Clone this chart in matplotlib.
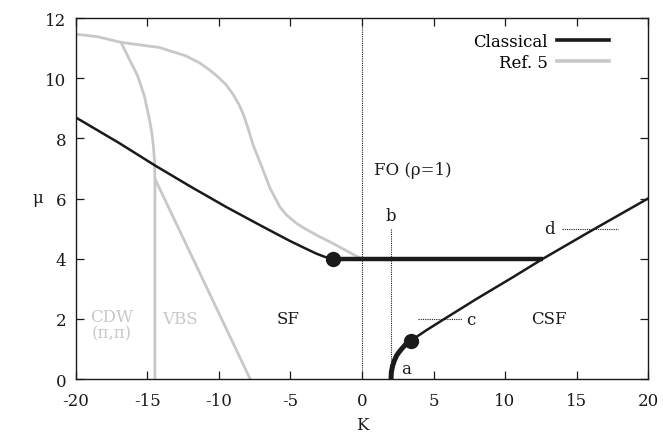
import matplotlib
matplotlib.use("Agg")
import matplotlib.pyplot as plt
from matplotlib.lines import Line2D
import numpy as np

plt.rcParams['font.family'] = ['DejaVu Serif']
plt.rcParams['axes.unicode_minus'] = False

# Classical boundary SF–FO (left)
sf_fo_K = [-20, -17.0, -14.48, -12.0, -9.5, -7.0, -5.0, -4.0, -3.2, -2.6, -2.0]
sf_fo_mu = [8.69, 7.85, 7.1, 6.4, 5.72, 5.08, 4.58, 4.35, 4.17, 4.06, 4.0]
# first-order line at mu=4
fo_K = [-2.0, 12.66]
fo_mu = [4.0, 4.0]
# CSF boundary (right, thin)
csf_K = [3.4, 4.5, 5.7, 8.0, 10.5, 12.66, 16.0, 20.0]
csf_mu = [1.27, 1.62, 1.98, 2.66, 3.37, 4.0, 4.92, 6.0]
# thick part near a
a_K = [2.03, 2.05, 2.14, 2.27, 2.42, 2.6, 2.77, 3.05, 3.4]
a_mu = [0.0, 0.22, 0.44, 0.62, 0.78, 0.9, 1.0, 1.15, 1.27]
# critical points
dots_K = [-2.0, 3.4]
dots_mu = [4.0, 1.27]

# Ref. 5 curves
ref_top_K = [-20, -18.5, -16.85, -14.17, -12.31, -11.33, -10.68, -10.16, -9.5, -9.0,
             -8.6, -8.3, -8.0, -7.6, -7.0, -6.43, -5.73, -5.27, -4.57, -4.1, -3.17,
             -2.0, -1.54, -0.37, 0.0]
ref_top_mu = [11.46, 11.38, 11.19, 11.02, 10.74, 10.5, 10.28, 10.08, 9.78, 9.45,
              9.12, 8.8, 8.38, 7.76, 7.05, 6.34, 5.71, 5.45, 5.17, 5.03, 4.78,
              4.5, 4.38, 4.08, 4.0]
ref_cdw_K = [-14.48, -14.48, -14.48, -14.5, -14.59, -14.7, -14.87, -15.22, -15.69,
             -16.27, -16.85]
ref_cdw_mu = [0.0, 4.0, 6.64, 7.2, 7.75, 8.2, 8.64, 9.41, 10.08, 10.63, 11.19]
ref_vbs_K = [-14.46, -7.82]
ref_vbs_mu = [6.64, 0.0]

black = '#1a1a1a'
grey = '#c8c8c8'
fs = 12

fig = plt.figure(figsize=(6.63, 4.35), dpi=100)
ax = fig.add_axes([0.1146, 0.1264, 0.8628, 0.8299])

ax.plot(ref_top_K, ref_top_mu, color=grey, lw=2.0, solid_joinstyle='round')
ax.plot(ref_cdw_K, ref_cdw_mu, color=grey, lw=2.0, solid_joinstyle='round')
ax.plot(ref_vbs_K, ref_vbs_mu, color=grey, lw=2.0)

ax.plot(sf_fo_K, sf_fo_mu, color=black, lw=1.8, solid_joinstyle='round')
ax.plot(fo_K, fo_mu, color=black, lw=3.2, solid_capstyle='butt')
ax.plot(csf_K, csf_mu, color=black, lw=1.8, solid_joinstyle='round')
ax.plot(a_K, a_mu, color=black, lw=3.6, solid_capstyle='butt', solid_joinstyle='round')
ax.plot(dots_K, dots_mu, 'o', color=black, ms=10)

# dotted guide lines
ax.plot([0, 0], [0, 12], color=black, lw=0.8, ls=(0, (1, 1)))
ax.plot([2.05, 2.05], [0, 4.98], color=black, lw=0.8, ls=(0, (1, 1)))
ax.plot([3.9, 7.0], [2.0, 2.0], color=black, lw=0.8, ls=(0, (1, 1)))
ax.plot([14.0, 17.9], [5.0, 5.0], color=black, lw=0.8, ls=(0, (1, 1)))

ax.text(2.05, 5.42, 'b', ha='center', va='center', fontsize=fs, color=black)
ax.text(7.3, 1.98, 'c', ha='left', va='center', fontsize=fs, color=black)
ax.text(13.5, 5.0, 'd', ha='right', va='center', fontsize=fs, color=black)
ax.text(2.75, 0.36, 'a', ha='left', va='center', fontsize=fs, color=black)
ax.text(0.85, 6.98, 'FO (ρ=1)', ha='left', va='center', fontsize=fs, color=black)
ax.text(-5.2, 2.0, 'SF', ha='center', va='center', fontsize=fs, color=black)
ax.text(13.1, 2.0, 'CSF', ha='center', va='center', fontsize=fs, color=black)
ax.text(-17.5, 2.08, 'CDW', ha='center', va='center', fontsize=fs, color=grey)
ax.text(-17.5, 1.55, '(π,π)', ha='center', va='center', fontsize=fs, color=grey)
ax.text(-12.7, 2.0, 'VBS', ha='center', va='center', fontsize=fs, color=grey)

# legend
handles = [Line2D([], [], color=black, lw=2.6), Line2D([], [], color=grey, lw=2.6)]
leg = ax.legend(handles, ['Classical', 'Ref. 5'], loc='upper right', frameon=False,
                markerfirst=False, fontsize=fs, handlelength=3.1, handletextpad=0.6,
                labelspacing=0.2, borderaxespad=0.0, borderpad=0.0,
                bbox_to_anchor=(0.932, 0.958))
for t in leg.get_texts():
    t.set_ha('right')

ax.set_xlim(-20, 20)
ax.set_ylim(0, 12)
ax.set_xticks(np.arange(-20, 21, 5))
ax.set_yticks(np.arange(0, 13, 2))
ax.tick_params(direction='in', top=True, right=True, length=6, width=0.9,
               labelsize=fs, colors=black)
ax.tick_params(axis='x', pad=9.5)
ax.tick_params(axis='y', pad=7)
for s in ax.spines.values():
    s.set_linewidth(1.0)
    s.set_color(black)
ax.set_xlabel('K', fontsize=fs, color=black)
ax.xaxis.set_label_coords(0.5, -0.127)
ax.xaxis.label.set_va('center')
ax.set_ylabel('μ', fontsize=fs, color=black, rotation=0)
ax.yaxis.set_label_coords(-0.066, 0.504)
ax.yaxis.label.set_va('center')
ax.yaxis.label.set_ha('center')

fig.savefig('out.png', dpi=100)
